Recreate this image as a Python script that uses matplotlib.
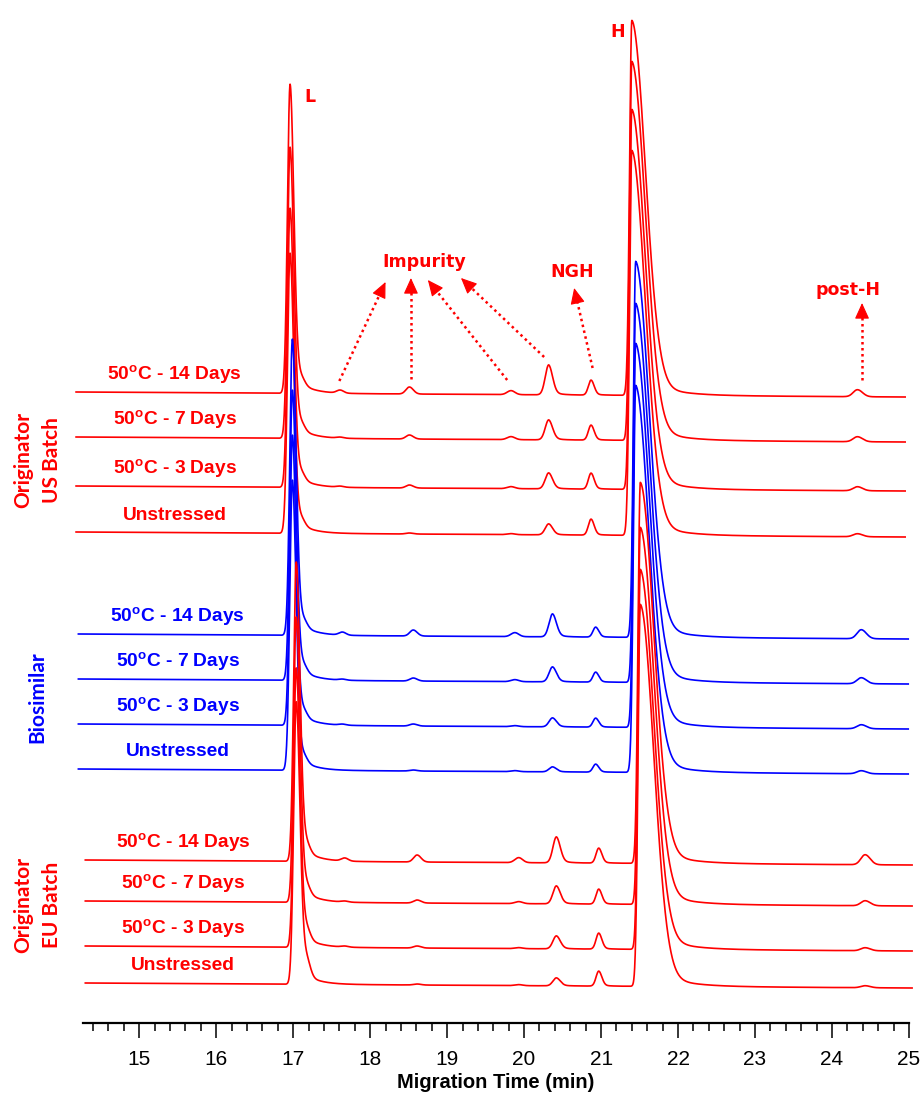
"""
Stacked CE-SDS (reduced) electropherograms of the originator US batch,
the biosimilar and the originator EU batch after thermal stress at 50 C.
"""

import matplotlib.pyplot as plt
import numpy as np

# peaks in every trace (columns of the height tables)
peak_names = ['L', 'L-shoulder', 'imp1', 'imp2', 'imp3', 'imp4',
              'NGH', 'H', 'post-H']

# migration times (min) of the peaks per sample group
times_us = [16.96, 17.10, 17.61, 18.51, 19.83, 20.32, 20.87, 21.40, 24.33]
times_bio = [16.99, 17.13, 17.64, 18.56, 19.88, 20.37, 20.93, 21.45, 24.38]
times_eu = [17.04, 17.17, 17.67, 18.61, 19.93, 20.42, 20.97, 21.51, 24.43]

conditions = [
    '50$^{\\mathregular{o}}$C - 14 Days',
    '50$^{\\mathregular{o}}$C - 7 Days',
    '50$^{\\mathregular{o}}$C - 3 Days',
    'Unstressed',
]

# peak heights (a.u.), one row per condition
heights_us = [
    [309, 8, 3, 7, 4, 30, 15, 375, 7],
    [291, 8, 1, 4, 3, 20, 15, 379, 5],
    [279, 8, 1, 3, 2, 16, 16, 380, 4],
    [280, 8, 0, 1, 1, 11, 16, 385, 3],
]
heights_bio = [
    [296, 8, 3, 6, 4, 23, 10, 376, 9],
    [290, 8, 1, 3, 2, 15, 10, 379, 6],
    [290, 8, 1, 2, 1, 9, 9, 384, 4],
    [290, 8, 0, 1, 1, 5, 8, 387, 3],
]
heights_eu = [
    [299, 10, 3, 7, 5, 26, 15, 381, 10],
    [285, 10, 1, 3, 2, 18, 15, 377, 5],
    [279, 12, 1, 2, 1, 13, 16, 380, 3],
    [282, 18, 0, 1, 1, 8, 15, 382, 2],
]

# recorded time window (min) per group
window_us = (14.18, 24.95)
window_bio = (14.21, 24.99)
window_eu = (14.30, 25.04)

group_names = ['Originator\nUS Batch', 'Biosimilar', 'Originator\nEU Batch']
group_colors = ['#ff0000', '#0000ff', '#ff0000']

# layout: vertical stacking offsets of the traces
offsets = [
    [631, 586, 537, 491],
    [389, 344, 299, 254],
    [163, 122, 77, 40],
]

# peak shapes: sigma left, sigma right, tail fraction, tail constant
shapes = {
    'L': (0.034, 0.048, 0.07, 0.18),
    'L-shoulder': (0.05, 0.05, 0.0, 1.0),
    'imp1': (0.045, 0.045, 0.0, 1.0),
    'imp2': (0.045, 0.05, 0.0, 1.0),
    'imp3': (0.05, 0.05, 0.0, 1.0),
    'imp4': (0.045, 0.05, 0.15, 0.1),
    'NGH': (0.035, 0.04, 0.1, 0.1),
    'H': (0.03, 0.175, 0.06, 0.35),
    'post-H': (0.055, 0.065, 0.0, 1.0),
}

BASE_DRIFT = -5.0
LABEL_FONT = ['Liberation Sans', 'DejaVu Sans']
PX_PER_MIN = 76.8


def peak(t, mu, height, shape):
    """asymmetric gaussian with an exponential tail"""
    sl, sr, frac, tau = shape
    dt = t - mu
    left = np.exp(-0.5 * (dt / sl) ** 2)
    right = (1 - frac) * np.exp(-0.5 * (dt / sr) ** 2) \
        + frac * np.exp(-np.clip(dt, 0, None) / tau)
    return height * np.where(dt < 0, left, right)


def trace(times, heights, window):
    t = np.linspace(window[0], window[1], 6000)
    y = BASE_DRIFT * (t - window[0]) / (window[1] - window[0])
    for name, mu, h in zip(peak_names, times, heights):
        y = y + peak(t, mu, h, shapes[name])
    return t, y


def arrow(ax, start, end, head=13):
    """dotted shaft with a solid filled head"""
    dx = (end[0] - start[0]) * PX_PER_MIN
    dy = end[1] - start[1]
    n = np.hypot(dx, dy)
    base = (end[0] - head * dx / n / PX_PER_MIN, end[1] - head * dy / n)
    ax.plot([start[0], base[0]], [start[1], base[1]], color='#ff0000',
            lw=1.8, linestyle=(0, (1, 1.4)), zorder=6)
    ax.annotate(
        '', xy=end, xytext=base,
        arrowprops=dict(arrowstyle='-|>,head_length=0.55,head_width=0.25',
                        color='#ff0000', lw=0.8, mutation_scale=18,
                        shrinkA=0, shrinkB=0),
        zorder=6
    )


if __name__ == '__main__':

    fig = plt.figure(figsize=(9.22, 10.93), dpi=100)
    ax = fig.add_axes([83 / 922, 70 / 1093, 826 / 922, 1023 / 1093])

    groups = [
        (times_us, heights_us, window_us),
        (times_bio, heights_bio, window_bio),
        (times_eu, heights_eu, window_eu),
    ]
    label_x = [15.46, 15.50, 15.57]
    group_y = [563, 326, 118]

    for g, (times, heights, window) in enumerate(groups):
        color = group_colors[g]
        for i, cond in enumerate(conditions):
            t, y = trace(times, heights[i], window)
            ax.plot(t, y + offsets[g][i], color=color, lw=1.2,
                    clip_on=False, zorder=2 + g)
            ax.text(label_x[g], offsets[g][i] + 17, cond, color=color,
                    fontsize=13.8, fontweight='bold', family=LABEL_FONT,
                    ha='center', va='center')
        ax.text(13.68, group_y[g], group_names[g], color=color,
                fontsize=15, fontweight='bold', family=['Lato', 'DejaVu Sans'],
                rotation=90, ha='center', va='center', linespacing=1.6)

    # peak annotations
    ann = dict(color='#ff0000', fontsize=12.5, fontweight='bold',
               ha='center', va='center')
    ax.text(18.70, 761, 'Impurity', **ann)
    ax.text(20.625, 751, 'NGH', **ann)
    ax.text(24.21, 733, 'post-H', **ann)
    ax.text(17.22, 926, 'L', **ann)
    ax.text(21.22, 991, 'H', **ann)

    arrow(ax, (17.60, 642), (18.20, 741))
    arrow(ax, (18.53, 644), (18.53, 745))
    arrow(ax, (19.78, 643), (18.75, 743))
    arrow(ax, (20.26, 666), (19.18, 745))
    arrow(ax, (20.89, 655), (20.65, 735))
    arrow(ax, (24.39, 643), (24.39, 720))

    # axis styling
    ax.set_xlim(14.27, 25)
    ax.set_ylim(0, 1023)
    for side in ['left', 'right', 'top']:
        ax.spines[side].set_visible(False)
    ax.spines['bottom'].set_linewidth(1.6)
    ax.set_yticks([])
    ax.set_xticks(np.arange(15, 26, 1))
    ax.set_xticks(np.arange(14.4, 25.01, 0.2), minor=True)
    ax.tick_params(axis='x', which='major', length=10.5, width=1.1,
                   direction='out', pad=9, labelsize=15)
    ax.tick_params(axis='x', which='minor', length=5.5, width=1.1,
                   direction='out')
    for lab in ax.get_xticklabels():
        lab.set_family(['Liberation Sans Narrow', 'Liberation Sans'])
    ax.set_xlabel('Migration Time (min)', fontsize=14.5, fontweight='bold',
                  family=['Liberation Sans Narrow', 'Liberation Sans'],
                  labelpad=3)

    fig.savefig('out.png', dpi=100)
